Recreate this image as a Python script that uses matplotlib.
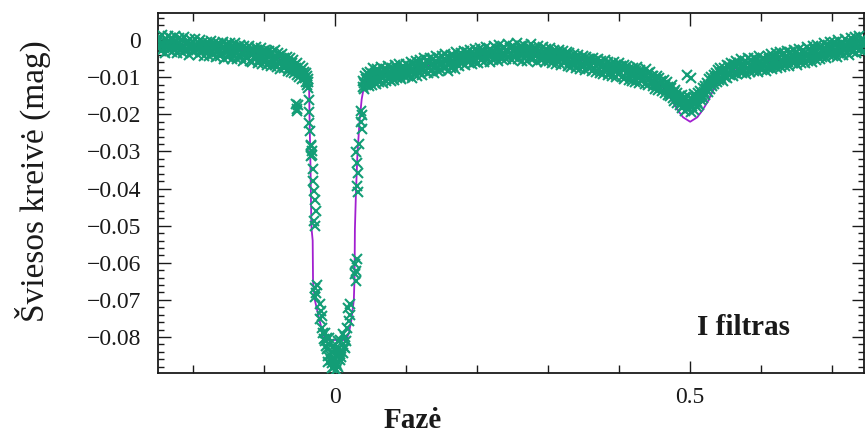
import numpy as np
import matplotlib
matplotlib.use("Agg")
import matplotlib.pyplot as plt
from matplotlib.ticker import MultipleLocator, FixedLocator, FuncFormatter

# ---- observed light curve, I filter (phase, magnitude in mmag) ----
obs_phase = [
    -0.2497, -0.2488, -0.2476, -0.2469, -0.2455, -0.2443, -0.2437, -0.2421, -0.2414, -0.2402, -0.2391, -0.2379,
    -0.2366, -0.2358, -0.2344, -0.2331, -0.2325, -0.2310, -0.2301, -0.2288, -0.2279, -0.2263, -0.2255, -0.2242,
    -0.2231, -0.2219, -0.2208, -0.2197, -0.2183, -0.2176, -0.2160, -0.2152, -0.2139, -0.2127, -0.2116, -0.2103,
    -0.2094, -0.2081, -0.2069, -0.2061, -0.2046, -0.2034, -0.2027, -0.2011, -0.2003, -0.1990, -0.1978, -0.1966,
    -0.1955, -0.1943, -0.1931, -0.1922, -0.1907, -0.1899, -0.1884, -0.1872, -0.1864, -0.1850, -0.1838, -0.1829,
    -0.1814, -0.1806, -0.1791, -0.1783, -0.1769, -0.1757, -0.1745, -0.1733, -0.1726, -0.1710, -0.1699, -0.1688,
    -0.1674, -0.1666, -0.1651, -0.1640, -0.1628, -0.1619, -0.1603, -0.1594, -0.1582, -0.1569, -0.1558, -0.1547,
    -0.1533, -0.1522, -0.1514, -0.1498, -0.1487, -0.1476, -0.1463, -0.1455, -0.1440, -0.1428, -0.1419, -0.1404,
    -0.1392, -0.1381, -0.1370, -0.1357, -0.1349, -0.1333, -0.1322, -0.1314, -0.1299, -0.1287, -0.1276, -0.1264,
    -0.1252, -0.1240, -0.1231, -0.1216, -0.1205, -0.1196, -0.1181, -0.1170, -0.1161, -0.1146, -0.1137, -0.1123,
    -0.1112, -0.1103, -0.1088, -0.1077, -0.1069, -0.1053, -0.1042, -0.1034, -0.1019, -0.1008, -0.0997, -0.0985,
    -0.0973, -0.0962, -0.0950, -0.0939, -0.0926, -0.0915, -0.0903, -0.0893, -0.0880, -0.0869, -0.0857, -0.0846,
    -0.0834, -0.0823, -0.0811, -0.0801, -0.0788, -0.0777, -0.0764, -0.0753, -0.0742, -0.0730, -0.0718, -0.0707,
    -0.0696, -0.0684, -0.0673, -0.0661, -0.0650, -0.0638, -0.0627, -0.0615, -0.0604, -0.0592, -0.0581, -0.0570,
    -0.0559, -0.0548, -0.0536, -0.0525, -0.0513, -0.0502, -0.0491, -0.0480, -0.0469, -0.0458, -0.0447, -0.0436,
    -0.0428, -0.0421, -0.0414, -0.0407, -0.0399, -0.0392, -0.0386, -0.0381,
    # primary eclipse
    -0.0555, -0.0540, -0.0528, -0.0535,
    -0.0378, -0.0372, -0.0369, -0.0360,
    -0.0345, -0.0335, -0.0328, -0.0350, -0.0340,
    -0.0320, -0.0310, -0.0298, -0.0288, -0.0272, -0.0305, -0.0282,
    -0.0285, -0.0275, -0.0290, -0.0265,
    -0.0220, -0.0200, -0.0210, -0.0190,
    -0.0180, -0.0152, -0.0124, -0.0101, -0.0083, -0.0061, -0.0042, -0.0020, 0.0003, 0.0012, 0.0031, 0.0052,
    0.0070, 0.0091, 0.0110, 0.0132, -0.0142, -0.0090, 0.0042, -0.0011, 0.0102, 0.0150, -0.0051, 0.0023,
    -0.0030, 0.0060,
    -0.0165, -0.0135, -0.0110, -0.0072, -0.0048, -0.0008, 0.0015, 0.0040, 0.0081, 0.0120, -0.0025, 0.0065,
    -0.0115, 0.0140, -0.0195,
    0.0180, 0.0200, 0.0190, 0.0212, 0.0165,
    0.0280, 0.0292, 0.0270, 0.0300, 0.0288,
    0.0290, 0.0302, 0.0312, 0.0298, 0.0320, 0.0330,
    0.0362, 0.0370, 0.0378, 0.0358,
    # after egress
    0.0386, 0.0393, 0.0401, 0.0409, 0.0418, 0.0426, 0.0433, 0.0441, 0.0450, 0.0458, 0.0467, 0.0475,
    0.0486, 0.0494, 0.0505, 0.0514, 0.0526, 0.0535, 0.0547, 0.0556, 0.0568, 0.0577, 0.0589, 0.0598,
    0.0610, 0.0621, 0.0632, 0.0643, 0.0655, 0.0666, 0.0678, 0.0689, 0.0701, 0.0712, 0.0724, 0.0735,
    0.0747, 0.0758, 0.0770, 0.0781, 0.0793, 0.0804, 0.0816, 0.0827, 0.0839, 0.0850, 0.0862, 0.0873,
    0.0885, 0.0896, 0.0908, 0.0919, 0.0931, 0.0942, 0.0954, 0.0965, 0.0977, 0.0988, 0.1000, 0.1011,
    0.1024, 0.1036, 0.1049, 0.1061, 0.1074, 0.1086, 0.1099, 0.1111, 0.1124, 0.1136, 0.1149, 0.1161,
    0.1174, 0.1186, 0.1199, 0.1211, 0.1224, 0.1236, 0.1249, 0.1261, 0.1274, 0.1286, 0.1299, 0.1311,
    0.1324, 0.1336, 0.1349, 0.1361, 0.1374, 0.1386, 0.1399, 0.1411, 0.1424, 0.1436, 0.1449, 0.1461,
    0.1474, 0.1486, 0.1499, 0.1511, 0.1524, 0.1536, 0.1549, 0.1561, 0.1574, 0.1586, 0.1599, 0.1611,
    0.1624, 0.1636, 0.1649, 0.1661, 0.1674, 0.1686, 0.1699, 0.1711, 0.1724, 0.1736, 0.1749, 0.1761,
    0.1774, 0.1786, 0.1799, 0.1811, 0.1824, 0.1836, 0.1849, 0.1861, 0.1874, 0.1886, 0.1899, 0.1911,
    0.1924, 0.1936, 0.1949, 0.1961, 0.1974, 0.1986, 0.1999, 0.2011, 0.2024, 0.2036, 0.2049, 0.2061,
    0.2074, 0.2086, 0.2099, 0.2111, 0.2124, 0.2136, 0.2149, 0.2161, 0.2174, 0.2186, 0.2199, 0.2211,
    0.2224, 0.2236, 0.2249, 0.2261, 0.2274, 0.2286, 0.2299, 0.2311, 0.2324, 0.2336, 0.2349, 0.2361,
    0.2374, 0.2386, 0.2399, 0.2411, 0.2424, 0.2436, 0.2449, 0.2461, 0.2474, 0.2486, 0.2499, 0.2511,
    0.2524, 0.2536, 0.2549, 0.2561, 0.2574, 0.2586, 0.2599, 0.2611, 0.2624, 0.2636, 0.2649, 0.2661,
    0.2674, 0.2686, 0.2699, 0.2711, 0.2724, 0.2736, 0.2749, 0.2761, 0.2774, 0.2786, 0.2799, 0.2811,
    0.2824, 0.2836, 0.2849, 0.2861, 0.2874, 0.2886, 0.2899, 0.2911, 0.2924, 0.2936, 0.2949, 0.2961,
    0.2974, 0.2986, 0.2999, 0.3011, 0.3024, 0.3036, 0.3049, 0.3061, 0.3074, 0.3086, 0.3099, 0.3111,
    0.3124, 0.3136, 0.3149, 0.3161, 0.3174, 0.3186, 0.3199, 0.3211, 0.3224, 0.3236, 0.3249, 0.3261,
    0.3274, 0.3286, 0.3299, 0.3311, 0.3324, 0.3336, 0.3349, 0.3361, 0.3374, 0.3386, 0.3399, 0.3411,
    0.3424, 0.3436, 0.3449, 0.3461, 0.3474, 0.3486, 0.3499, 0.3511, 0.3524, 0.3536, 0.3549, 0.3561,
    0.3574, 0.3586, 0.3599, 0.3611, 0.3624, 0.3636, 0.3649, 0.3661, 0.3674, 0.3686, 0.3699, 0.3711,
    0.3724, 0.3736, 0.3749, 0.3761, 0.3774, 0.3786, 0.3799, 0.3811, 0.3824, 0.3836, 0.3849, 0.3861,
    0.3874, 0.3886, 0.3899, 0.3911, 0.3924, 0.3936, 0.3949, 0.3961, 0.3974, 0.3986, 0.3999, 0.4011,
    0.4024, 0.4036, 0.4049, 0.4061, 0.4074, 0.4086, 0.4099, 0.4111, 0.4124, 0.4136, 0.4149, 0.4161,
    0.4174, 0.4186, 0.4199, 0.4211, 0.4224, 0.4236, 0.4249, 0.4261, 0.4274, 0.4286, 0.4299, 0.4311,
    0.4324, 0.4336, 0.4349, 0.4361, 0.4374, 0.4386, 0.4399, 0.4411, 0.4424, 0.4436, 0.4449, 0.4461,
    # secondary eclipse
    0.4472, 0.4481, 0.4493, 0.4502, 0.4514, 0.4523, 0.4535, 0.4544, 0.4556, 0.4565, 0.4577, 0.4586,
    0.4598, 0.4607, 0.4619, 0.4628, 0.4640, 0.4649, 0.4661, 0.4670, 0.4682, 0.4691, 0.4703, 0.4712,
    0.4724, 0.4733, 0.4745, 0.4754, 0.4766, 0.4775, 0.4787, 0.4796, 0.4808, 0.4817, 0.4829, 0.4838,
    0.4850, 0.4859, 0.4871, 0.4880, 0.4892, 0.4901, 0.4913, 0.4922, 0.4934, 0.4943, 0.4955, 0.4964,
    0.4976, 0.4985, 0.4997, 0.5006, 0.5018, 0.5027, 0.5039, 0.5048, 0.5060, 0.5069, 0.5081, 0.5090,
    0.5102, 0.5111, 0.5123, 0.5132, 0.5144, 0.5153, 0.5165, 0.5174, 0.5186, 0.5195, 0.5207, 0.5216,
    0.5228, 0.5237, 0.5249, 0.5258, 0.5270, 0.5279, 0.5291, 0.5300, 0.5312, 0.5321, 0.5333, 0.5342,
    0.5354, 0.5363, 0.5375, 0.5384, 0.5396, 0.5405, 0.5417, 0.5426, 0.5438, 0.5447, 0.5459, 0.5468,
    0.4962, 0.5010,
    # rising branch towards phase 0.75
    0.5480, 0.5492, 0.5503, 0.5515, 0.5526, 0.5538, 0.5549, 0.5561, 0.5572, 0.5584, 0.5595, 0.5607,
    0.5618, 0.5630, 0.5641, 0.5653, 0.5664, 0.5676, 0.5687, 0.5699, 0.5710, 0.5722, 0.5733, 0.5745,
    0.5756, 0.5768, 0.5779, 0.5791, 0.5802, 0.5814, 0.5825, 0.5837, 0.5848, 0.5860, 0.5871, 0.5883,
    0.5894, 0.5906, 0.5917, 0.5929, 0.5940, 0.5952, 0.5963, 0.5975, 0.5986, 0.5998, 0.6009, 0.6021,
    0.6032, 0.6044, 0.6055, 0.6067, 0.6078, 0.6090, 0.6101, 0.6113, 0.6124, 0.6136, 0.6147, 0.6159,
    0.6170, 0.6182, 0.6193, 0.6205, 0.6216, 0.6228, 0.6239, 0.6251, 0.6262, 0.6274, 0.6285, 0.6297,
    0.6308, 0.6320, 0.6331, 0.6343, 0.6354, 0.6366, 0.6377, 0.6389, 0.6400, 0.6412, 0.6423, 0.6435,
    0.6446, 0.6458, 0.6469, 0.6481, 0.6492, 0.6504, 0.6515, 0.6527, 0.6538, 0.6550, 0.6561, 0.6573,
    0.6584, 0.6596, 0.6607, 0.6619, 0.6630, 0.6642, 0.6653, 0.6665, 0.6676, 0.6688, 0.6699, 0.6711,
    0.6722, 0.6734, 0.6745, 0.6757, 0.6768, 0.6780, 0.6791, 0.6803, 0.6814, 0.6826, 0.6837, 0.6849,
    0.6860, 0.6872, 0.6883, 0.6895, 0.6906, 0.6918, 0.6929, 0.6941, 0.6952, 0.6964, 0.6975, 0.6987,
    0.6998, 0.7010, 0.7021, 0.7033, 0.7044, 0.7056, 0.7067, 0.7079, 0.7090, 0.7102, 0.7113, 0.7125,
    0.7136, 0.7148, 0.7159, 0.7171, 0.7182, 0.7194, 0.7205, 0.7217, 0.7228, 0.7240, 0.7251, 0.7263,
    0.7274, 0.7286, 0.7297, 0.7309, 0.7320, 0.7332, 0.7343, 0.7355, 0.7366, 0.7378, 0.7389, 0.7401,
    0.7412, 0.7424, 0.7435, 0.7447,
]

obs_mmag = [
    -0.3, -2.2, 0.8, -1.6, -3.0, -0.7, 1.3, -2.1, -1.0, -3.5, 0.2, -1.8,
    -0.9, 1.1, -2.7, -0.4, -1.9, 0.5, -3.2, -1.3, -0.2, -2.5, 1.0, -1.5,
    -3.4, -0.8, -1.7, 0.6, -2.6, -1.2, -0.1, -3.6, -1.9, 0.9, -2.3, -1.0,
    -0.4, -2.8, -1.5, -3.9, 0.4, -1.1, -2.2, -0.6, -3.1, -1.7, 0.2, -2.6,
    -1.3, -4.0, -0.8, -2.1, 0.0, -3.3, -1.6, -2.7, -0.5, -4.2, -1.9, -1.2,
    -3.0, -0.6, -2.4, -4.3, -1.4, -0.3, -2.9, -1.8, -3.8, -0.9, -2.2, -4.6,
    -1.5, -3.3, -0.7, -2.6, -4.4, -1.2, -2.0, -3.7, -0.6, -5.1, -2.5, -1.4,
    -3.2, -1.0, -4.5, -2.3, -0.9, -3.6, -5.0, -1.7, -2.8, -4.1, -0.8, -3.0,
    -1.9, -5.2, -2.7, -3.9, -1.2, -4.6, -2.2, -3.4, -5.6, -1.6, -3.0, -4.3,
    -2.1, -4.8, -3.3, -1.5, -5.7, -2.9, -4.0, -6.0, -2.4, -3.6, -5.1, -1.9,
    -4.4, -2.6, -6.2, -3.5, -5.0, -2.0, -4.1, -6.5, -3.0, -4.8, -2.7, -5.6,
    -3.3, -6.8, -4.5, -2.9, -5.9, -4.0, -7.0, -3.2, -5.3, -4.6, -6.6, -2.8,
    -5.0, -7.3, -3.6, -6.1, -4.4, -7.8, -5.5, -3.8, -6.7, -4.9, -7.5, -5.7,
    -6.9, -4.5, -8.2, -5.8, -7.4, -4.9, -8.6, -6.3, -7.9, -5.4, -8.9, -6.8,
    -7.6, -9.4, -6.2, -8.3, -10.0, -7.1, -9.0, -8.0, -10.6, -7.6, -9.5, -8.6,
    -10.3, -8.8, -11.4, -9.6, -12.0, -10.4, -12.8, -11.2,
    # primary eclipse
    -17.2, -18.6, -17.6, -19.0,
    -16.2, -19.4, -22.3, -24.5,
    -28.6, -29.8, -31.0, -31.3, -28.2,
    -34.8, -37.9, -40.6, -43.2, -46.1, -48.7, -50.2,
    -66.8, -68.1, -69.2, -65.9,
    -71.0, -73.1, -75.2, -74.3,
    -79.0, -81.2, -83.1, -85.0, -82.0, -86.2, -84.1, -88.0, -87.1, -89.0, -85.2, -83.0,
    -86.1, -82.2, -84.3, -80.1, -78.9, -80.3, -81.0, -83.2, -79.2, -81.0, -88.3, -87.6,
    -85.8, -84.6,
    -80.5, -82.4, -86.8, -84.9, -87.0, -86.0, -84.0, -88.2, -85.5, -82.8, -82.5, -80.8,
    -80.2, -83.0, -77.6,
    -72.1, -74.0, -75.8, -71.0, -77.5,
    -60.2, -62.1, -63.0, -59.1, -64.8,
    -30.1, -33.0, -35.9, -39.2, -41.0, -28.1,
    -22.0, -20.1, -24.0, -19.0,
    # after egress
    -12.6, -10.9, -13.2, -11.6, -9.8, -12.2, -10.6, -8.9, -11.8, -10.1, -12.4, -9.4,
    -11.1, -8.6, -10.4, -12.0, -9.2, -7.6, -10.9, -8.8, -11.7, -9.9, -7.9, -10.6,
    -8.4, -11.2, -9.5, -7.2, -10.3, -8.9, -11.6, -7.8, -9.8, -10.9, -8.1, -9.3,
    -6.9, -10.4, -8.7, -11.0, -7.5, -9.6, -8.2, -10.8, -6.6, -9.1, -7.9, -10.2,
    -8.8, -6.4, -9.9, -7.6, -10.5, -8.3, -6.9, -9.4, -7.7, -10.0, -6.5, -8.6,
    -9.6, -7.1, -8.4, -5.9, -10.1, -7.7, -6.5, -9.2, -8.0, -5.6, -9.7, -7.3,
    -6.2, -8.9, -5.4, -7.8, -9.5, -6.6, -4.9, -8.3, -7.0, -5.3, -9.0, -6.1,
    -7.6, -4.8, -8.4, -6.4, -5.2, -8.9, -6.9, -4.4, -7.5, -5.9, -8.2, -4.9,
    -6.7, -8.0, -4.2, -6.1, -7.6, -5.0, -3.8, -7.2, -5.6, -8.3, -4.6, -6.3,
    -7.4, -3.9, -5.8, -6.9, -4.4, -7.7, -3.3, -5.4, -6.6, -4.0, -7.1, -5.1,
    -3.6, -6.3, -4.8, -2.9, -6.8, -4.2, -5.7, -3.1, -6.0, -4.5, -2.6, -5.3,
    -6.4, -3.8, -4.9, -2.4, -5.9, -4.1, -3.0, -6.2, -4.6, -2.2, -5.4, -3.5,
    -4.8, -2.6, -5.9, -3.9, -1.8, -5.1, -3.3, -4.4, -6.0, -2.5, -4.1, -3.0,
    -5.3, -1.7, -3.8, -4.7, -2.4, -5.6, -3.1, -1.4, -4.4, -2.8, -5.0, -3.6,
    -1.9, -4.1, -2.7, -5.2, -3.3, -1.1, -4.5, -2.2, -3.8, -5.4, -1.6, -3.0,
    -4.6, -2.0, -3.5, -0.9, -5.1, -2.8, -4.0, -1.5, -3.2, -5.5, -2.4, -1.2,
    -4.3, -3.0, -5.6, -1.8, -3.7, -2.5, -4.9, -1.0, -3.4, -5.2, -2.1, -4.0,
    -2.7, -5.8, -3.6, -1.6, -4.5, -2.9, -5.3, -3.8, -1.9, -4.8, -3.1, -6.0,
    -2.4, -4.2, -3.3, -5.7, -2.2, -4.6, -6.1, -3.5, -2.8, -5.1, -4.0, -6.4,
    -3.1, -5.4, -2.6, -4.4, -6.6, -3.7, -5.0, -2.9, -6.2, -4.1, -5.6, -3.3,
    -6.9, -4.6, -3.5, -5.9, -7.2, -4.2, -6.4, -3.8, -5.3, -7.5, -4.7, -6.1,
    -3.9, -5.6, -7.7, -4.9, -6.5, -4.3, -7.1, -5.8, -8.0, -4.6, -6.3, -5.2,
    -7.4, -5.0, -6.8, -8.3, -4.8, -6.0, -7.7, -5.5, -8.6, -6.4, -5.1, -7.9,
    -6.2, -8.8, -5.6, -7.3, -9.1, -6.6, -5.3, -8.1, -7.0, -9.4, -6.0, -7.6,
    -8.7, -6.4, -9.7, -7.2, -5.9, -8.4, -10.0, -6.8, -7.9, -9.2, -6.3, -8.5,
    -7.1, -9.9, -8.0, -6.6, -10.4, -7.7, -9.0, -6.9, -8.6, -10.7, -7.4, -9.5,
    -8.2, -10.9, -7.6, -9.3, -11.2, -8.4, -7.2, -10.1, -9.0, -11.5, -8.0, -9.8,
    -10.7, -8.5, -9.4, -11.8, -7.9, -10.2, -9.0, -12.1, -10.6, -8.7, -11.4, -9.8,
    # secondary eclipse
    -12.4, -9.8, -11.1, -13.2, -10.4, -12.0, -9.6, -13.5, -11.5, -10.2, -12.9, -11.0,
    -13.6, -11.3, -12.4, -10.7, -14.2, -12.0, -13.1, -11.4, -14.8, -12.6, -13.9, -15.1,
    -13.0, -14.6, -12.2, -15.6, -14.0, -16.3, -13.4, -15.1, -17.0, -14.3, -16.0, -15.5,
    -17.4, -15.0, -16.7, -18.3, -14.8, -17.8, -16.1, -19.0, -15.4, -17.3, -18.7, -16.5,
    -15.1, -18.2, -17.0, -19.4, -15.9, -17.7, -16.4, -18.8, -14.6, -17.1, -15.8, -18.0,
    -16.6, -14.2, -17.4, -15.3, -13.6, -16.2, -14.7, -12.8, -15.6, -13.9, -12.4, -14.8,
    -13.1, -11.5, -14.0, -12.3, -10.6, -13.2, -11.8, -9.9, -12.5, -10.9, -9.3, -11.7,
    -10.3, -8.8, -11.4, -9.6, -8.1, -10.7, -9.0, -7.5, -10.1, -8.6, -11.0, -9.2,
    -9.4, -10.2,
    # rising branch towards phase 0.75
    -7.4, -9.9, -8.3, -6.7, -10.2, -8.8, -7.1, -9.5, -6.2, -8.4, -7.6, -9.8,
    -6.5, -8.9, -7.3, -5.6, -9.2, -7.9, -6.1, -8.6, -5.0, -7.5, -9.0, -6.4,
    -8.2, -5.5, -7.0, -9.1, -6.3, -4.9, -7.8, -6.6, -8.7, -5.3, -7.2, -6.0,
    -8.3, -4.7, -6.8, -7.7, -5.4, -8.6, -6.2, -4.4, -7.4, -5.8, -8.0, -6.6,
    -4.9, -7.1, -5.6, -8.2, -6.0, -4.2, -7.5, -5.2, -6.9, -3.8, -7.8, -5.9,
    -4.5, -7.0, -6.2, -3.6, -5.7, -7.6, -4.8, -6.5, -3.3, -5.4, -7.2, -4.1,
    -6.0, -3.5, -5.2, -6.9, -4.3, -2.9, -5.8, -4.7, -7.0, -3.2, -5.5, -4.0,
    -6.3, -2.6, -4.9, -5.9, -3.6, -6.6, -4.2, -2.3, -5.4, -3.9, -6.1, -4.6,
    -2.8, -5.0, -3.4, -6.2, -4.4, -1.9, -3.8, -5.6, -2.5, -4.7, -3.1, -5.9,
    -3.6, -1.6, -4.8, -2.8, -5.3, -3.2, -1.3, -4.3, -2.1, -5.0, -3.4, -1.9,
    -4.5, -2.5, -0.9, -3.7, -2.0, -4.9, -3.0, -1.2, -4.1, -2.7, -0.6, -3.5,
    -1.8, -4.4, -2.6, -0.4, -3.3, -1.4, -4.6, -2.2, -0.1, -3.6, -1.7, -2.9,
    -0.8, -3.9, -1.9, -2.8, 0.2, -1.3, -3.4, -2.2, -0.5, -4.0, -1.6, 0.5,
    -2.5, -0.7, -3.3, -1.2, 0.8, -2.0, -3.6, -0.3, -1.5, 1.0, -2.7, -0.9,
    -2.1, 0.4, -1.1, -3.0,
]

# ---- binary model fit (phase, magnitude in mmag) ----
model_phase = [
    -0.25, -0.22, -0.19, -0.16, -0.13, -0.10, -0.08, -0.06, -0.05, -0.043,
    -0.039, -0.037, -0.0365, -0.035, -0.034, -0.0335, -0.032, -0.0315, -0.029, -0.0225,
    -0.017, -0.013, 0.000, 0.015, 0.019, 0.0225, 0.026, 0.027, 0.0275, 0.029,
    0.031, 0.034, 0.037, 0.040, 0.045, 0.06, 0.08, 0.10, 0.13, 0.16,
    0.19, 0.22, 0.25, 0.28, 0.31, 0.34, 0.37, 0.40, 0.42, 0.44,
    0.455, 0.465, 0.475, 0.483, 0.490, 0.500, 0.510, 0.517, 0.525, 0.535,
    0.545, 0.56, 0.59, 0.62, 0.65, 0.68, 0.71, 0.745,
]
model_mmag = [
    -1.0, -1.2, -1.6, -2.2, -3.0, -4.0, -5.0, -6.3, -7.2, -8.4,
    -9.8, -13.0, -20.0, -35.0, -48.0, -51.0, -54.0, -65.0, -70.0, -75.4,
    -79.5, -80.8, -80.8, -80.8, -79.0, -75.4, -70.0, -64.0, -51.0, -41.0,
    -31.0, -22.0, -16.0, -12.8, -10.3, -9.4, -8.7, -8.0, -6.8, -5.7,
    -4.6, -3.8, -3.2, -3.3, -4.0, -5.2, -6.5, -7.8, -8.8, -10.0,
    -11.5, -13.5, -16.5, -19.0, -20.8, -22.0, -20.8, -19.0, -16.5, -12.5,
    -10.0, -8.3, -6.8, -5.8, -4.6, -3.5, -2.4, -1.2,
]

x_major = [0.0, 0.5]
x_major_labels = ["0", "0.5"]
y_major = [0.0, -0.01, -0.02, -0.03, -0.04, -0.05, -0.06, -0.07, -0.08]

GREEN = "#139d76"
VIOLET = "#a21fd0"
INK = "#1a1a1a"

plt.rcParams["font.family"] = ["Liberation Serif", "DejaVu Serif"]

W, H = 865, 437
fig = plt.figure(figsize=(W / 100, H / 100), dpi=100)
fig.patch.set_facecolor("white")

ax_left, ax_right, ax_top, ax_bottom = 158, 864, 13, 373
ax = fig.add_axes([ax_left / W, 1 - ax_bottom / H,
                   (ax_right - ax_left) / W, (ax_bottom - ax_top) / H])

ax.plot(np.array(model_phase), np.array(model_mmag) / 1000.0,
        color=VIOLET, lw=1.3, zorder=2)
ax.plot(np.array(obs_phase), np.array(obs_mmag) / 1000.0,
        ls="none", marker="x", ms=6.5, mew=1.5, color=GREEN, zorder=3)

ax.set_xlim(-0.25, 0.745)
ax.set_ylim(-0.0897, 0.0073)

ax.xaxis.set_major_locator(FixedLocator(x_major))
ax.xaxis.set_major_formatter(FuncFormatter(
    lambda v, p: x_major_labels[x_major.index(round(v, 3))] if round(v, 3) in x_major else ""))
ax.xaxis.set_minor_locator(MultipleLocator(0.1))
ax.yaxis.set_major_locator(FixedLocator(y_major))
ax.yaxis.set_major_formatter(FuncFormatter(
    lambda v, p: "0" if abs(v) < 1e-9 else "\u2212" + f"{abs(v):.2f}"))
ax.yaxis.set_minor_locator(MultipleLocator(0.002))

ax.tick_params(axis="both", which="both", direction="in", top=True, right=True,
               color=INK, width=1.0, labelcolor=INK)
ax.tick_params(axis="x", which="major", length=9, labelsize=17, pad=10)
ax.tick_params(axis="x", which="minor", length=6)
ax.tick_params(axis="y", which="major", length=9, labelsize=17, pad=12)
ax.tick_params(axis="y", which="minor", length=4.5)

for s in ax.spines.values():
    s.set_color(INK)
    s.set_linewidth(1.3)

fig.text(33 / W, 1 - 181 / H, "Šviesos kreivė (mag)", rotation=90,
         ha="center", va="center", fontsize=24, color=INK)
fig.text(413 / W, 1 - 420 / H, "Fazė", ha="center", va="center",
         fontsize=21, fontweight="bold", color=INK)
fig.text(697 / W, 1 - 335 / H, "I filtras", ha="left", va="baseline",
         fontsize=21, fontweight="bold", color=INK)

fig.savefig("out.png", dpi=100, facecolor="white")
